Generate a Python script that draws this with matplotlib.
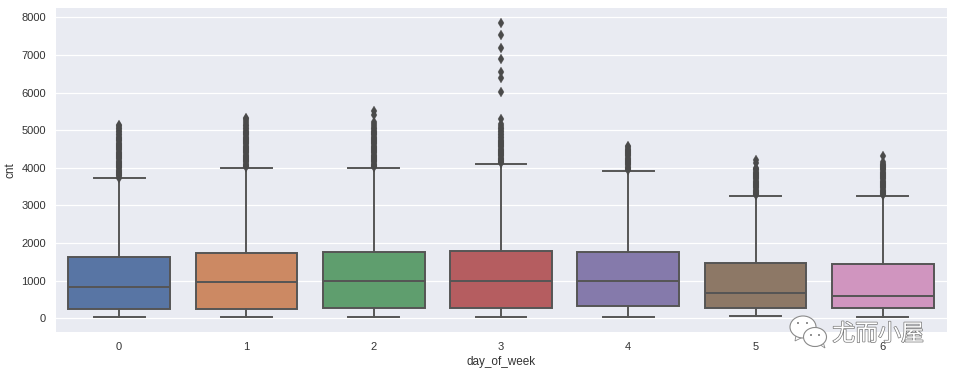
import matplotlib
matplotlib.use("Agg")
import matplotlib.pyplot as plt
from matplotlib.patches import Ellipse, Polygon
import matplotlib.patheffects as pe

# -------------------------
# Data
# -------------------------
days = [0, 1, 2, 3, 4, 5, 6]
whisker_low = [20, 20, 20, 20, 20, 50, 20]
q1 = [230, 230, 260, 280, 330, 280, 260]
medians = [840, 950, 980, 1000, 980, 680, 590]
q3 = [1630, 1740, 1770, 1790, 1760, 1470, 1450]
whisker_high = [3720, 4000, 4000, 4100, 3920, 3250, 3250]

fliers_0 = [3740, 3770, 3800, 3830, 3860, 3890, 3920, 3950, 3980, 4010, 4040, 4070, 4100, 4130, 4160,
            4190, 4220, 4250, 4280, 4310, 4340, 4370, 4400, 4430, 4460, 4490, 4520, 4550, 4580, 4610,
            4640, 4670, 4700, 4730, 4760, 4790, 4820, 4860, 4900, 4940, 4980, 5020, 5060, 5100, 5150]
fliers_1 = [4020, 4050, 4080, 4110, 4140, 4170, 4200, 4230, 4260, 4290, 4320, 4350, 4380, 4410, 4440,
            4470, 4500, 4530, 4560, 4590, 4620, 4650, 4680, 4710, 4740, 4770, 4800, 4830, 4860, 4890,
            4920, 4950, 4980, 5020, 5060, 5100, 5150, 5200, 5250, 5290, 5320]
fliers_2 = [4020, 4050, 4080, 4110, 4140, 4170, 4200, 4230, 4260, 4290, 4320, 4350, 4380, 4410, 4440,
            4470, 4500, 4530, 4560, 4590, 4620, 4650, 4680, 4710, 4740, 4770, 4800, 4830, 4860, 4890,
            4920, 4950, 4990, 5030, 5070, 5110, 5160, 5220, 5400, 5520]
fliers_3 = [4120, 4150, 4180, 4210, 4240, 4270, 4300, 4330, 4360, 4390, 4420, 4450, 4480, 4510, 4540,
            4570, 4600, 4630, 4660, 4690, 4720, 4750, 4780, 4820, 4860, 4900, 4940, 4980, 5020, 5060,
            5100, 5170, 5290, 6020, 6380, 6560, 6880, 7180, 7520, 7850]
fliers_4 = [3940, 3970, 4000, 4030, 4060, 4090, 4120, 4150, 4180, 4210, 4240, 4270, 4300, 4330, 4360,
            4390, 4420, 4450, 4480, 4510, 4540, 4570]
fliers_5 = [3270, 3300, 3330, 3360, 3390, 3420, 3450, 3480, 3510, 3540, 3570, 3600, 3630, 3660, 3690,
            3720, 3750, 3780, 3810, 3840, 3870, 3900, 3930, 3960, 3990, 4130, 4200]
fliers_6 = [3270, 3300, 3330, 3360, 3390, 3420, 3450, 3480, 3510, 3540, 3570, 3600, 3630, 3660, 3690,
            3720, 3750, 3780, 3810, 3840, 3870, 3900, 3930, 3960, 3990, 4020, 4050, 4080, 4110, 4150,
            4310]
fliers = [fliers_0, fliers_1, fliers_2, fliers_3, fliers_4, fliers_5, fliers_6]

box_colors = ["#5875a4", "#cc8963", "#5f9e6e", "#b55d60", "#857aab", "#8d7866", "#d095bf"]
line_color = "#555555"

# -------------------------
# Figure
# -------------------------
plt.rcParams["font.family"] = ["Liberation Sans", "DejaVu Sans"]
fig = plt.figure(figsize=(9.55, 3.74), dpi=100)
ax = fig.add_axes([55.5 / 955, 1 - 332 / 374, 891 / 955, 324 / 374])
ax.set_facecolor("#e9ebf2")
for s in ax.spines.values():
    s.set_visible(False)
ax.grid(axis="y", color="white", linewidth=0.9)
ax.set_axisbelow(True)

stats = []
for i in range(len(days)):
    stats.append({
        "whislo": whisker_low[i], "q1": q1[i], "med": medians[i], "q3": q3[i],
        "whishi": whisker_high[i], "fliers": fliers[i],
    })

line_props = dict(color=line_color, linewidth=1.4)
parts = ax.bxp(stats, positions=days, widths=0.8, patch_artist=True, manage_ticks=False,
               boxprops=dict(edgecolor=line_color, linewidth=1.4),
               medianprops=line_props, whiskerprops=line_props, capprops=line_props,
               flierprops=dict(marker="d", markerfacecolor="#4a4a4a", markeredgecolor="#4a4a4a",
                               markeredgewidth=0.2, markersize=4.8, linestyle="none"))
for box, c in zip(parts["boxes"], box_colors):
    box.set_facecolor(c)

ax.set_xlim(-0.5, 6.5)
ax.set_ylim(-370, 8250)
ax.set_xticks(days)
ax.set_xticklabels([str(d) for d in days])
ax.set_yticks([0, 1000, 2000, 3000, 4000, 5000, 6000, 7000, 8000])
ax.tick_params(length=0, labelsize=8, labelcolor="#333333", pad=7)
ax.set_xlabel("day_of_week", fontsize=8.5, color="#333333", labelpad=3)
ax.set_ylabel("cnt", fontsize=8.5, color="#333333", labelpad=3)

# -------------------------
# Watermark
# -------------------------
overlay = fig.add_axes([0, 0, 1, 1], facecolor="none")
overlay.set_xlim(0, 955)
overlay.set_ylim(374, 0)
overlay.axis("off")
for cx, cy, w, h, tail in [(803, 327, 26, 22, [(796, 335), (795, 341), (803, 337)]),
                           (815, 337, 23, 19, [(819, 344), (825, 348), (823, 342)])]:
    overlay.add_patch(Polygon(tail, closed=True, facecolor="white", edgecolor="#8a8a8a", linewidth=0.6))
    overlay.add_patch(Ellipse((cx, cy), w, h, facecolor="white", edgecolor="#8a8a8a", linewidth=0.8))
for ex, ey in [(798, 323), (807, 323), (811, 335), (819, 335)]:
    overlay.add_patch(Ellipse((ex, ey), 2, 2, facecolor="#777777", edgecolor="none"))
overlay.text(878, 334, "尤而小屋", family=["Noto Sans CJK SC", "DejaVu Sans"], fontsize=16.5,
             color="white", ha="center", va="center",
             path_effects=[pe.withStroke(linewidth=1.0, foreground="#777777")])

fig.savefig("out.png", dpi=100, facecolor="white")
